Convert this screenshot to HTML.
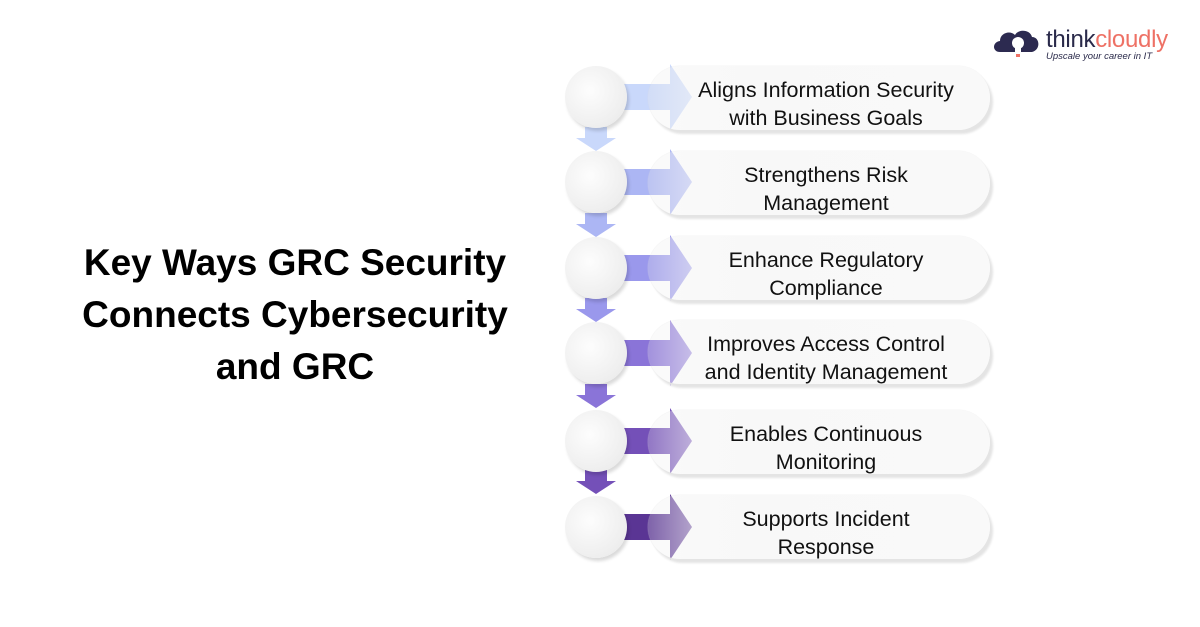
<!DOCTYPE html>
<html><head><meta charset="utf-8"><style>
body{margin:0;width:1200px;height:627px;background:#fff;position:relative;overflow:hidden;font-family:"Liberation Sans",sans-serif}
.t{position:absolute;left:35px;width:520px;top:237px;text-align:center;font-weight:bold;font-size:37px;line-height:52px;color:#000}
.c{position:absolute;left:565px;width:62px;height:62px;border-radius:50%;background:radial-gradient(circle at 40% 40%,#fdfdfd,#eeeeee 70%,#e2e2e2);box-shadow:2px 3px 3px rgba(0,0,0,.15)}
.p{position:absolute;left:648px;width:342px;height:64px;border-radius:32px;background:linear-gradient(90deg,rgba(235,235,235,.25),rgba(245,245,245,.6) 14%,rgba(248,248,248,.95) 30%,#f9f9f9);box-shadow:3px 4px 2px #e4e4e4,0 0 1px #ddd;display:flex;align-items:center;justify-content:center;text-align:center;font-size:21.5px;line-height:28px;color:#111}
.p span{position:relative;left:7px;top:6px}
svg{position:absolute;left:0;top:0}
.logo{position:absolute;left:1046px;top:26px;font-size:24px;color:#2a2a4a;letter-spacing:-0.3px}
.logo b{color:#ee7165;font-weight:normal}
.sub{position:absolute;left:1046px;top:51px;font-size:9.5px;font-style:italic;color:#2a2a4a}
</style></head><body>
<div class="t">Key Ways GRC Security<br>Connects Cybersecurity<br>and GRC</div>
<svg width="1200" height="627">
<g>
<path d="M585 127h22v11l9 0-20 13-20-13 9 0z" fill="#c9d8fb"/>
<path d="M585 213h22v11l9 0-20 13-20-13 9 0z" fill="#acb6f4"/>
<path d="M585 298h22v11l9 0-20 13-20-13 9 0z" fill="#9a98ec"/>
<path d="M585 384h22v11l9 0-20 13-20-13 9 0z" fill="#8a74d8"/>
<path d="M585 470h22v11l9 0-20 13-20-13 9 0z" fill="#7450b8"/>
</g>
<g>
<path d="M620 84h50v-20l22 33-22 33v-20h-50z" fill="#c9d8fb"/>
<path d="M620 169h50v-20l22 33-22 33v-20h-50z" fill="#acb6f4"/>
<path d="M620 255h50v-20l22 33-22 33v-20h-50z" fill="#9a98ec"/>
<path d="M620 340h50v-20l22 33-22 33v-20h-50z" fill="#8a74d8"/>
<path d="M620 428h50v-20l22 33-22 33v-20h-50z" fill="#7450b8"/>
<path d="M620 514h50v-20l22 33-22 33v-20h-50z" fill="#5a3594"/>
</g>
</svg>
<div class="c" style="top:66px"></div>
<div class="c" style="top:151px"></div>
<div class="c" style="top:237px"></div>
<div class="c" style="top:322px"></div>
<div class="c" style="top:410px"></div>
<div class="c" style="top:496px"></div>
<div class="p" style="top:66px"><span>Aligns Information Security<br>with Business Goals</span></div>
<div class="p" style="top:151px"><span>Strengthens Risk<br>Management</span></div>
<div class="p" style="top:236px"><span>Enhance Regulatory<br>Compliance</span></div>
<div class="p" style="top:320px"><span>Improves Access Control<br>and Identity Management</span></div>
<div class="p" style="top:410px"><span>Enables Continuous<br>Monitoring</span></div>
<div class="p" style="top:495px"><span>Supports Incident<br>Response</span></div>
<svg width="1200" height="627" style="pointer-events:none">
<path d="M1000 52c-8 0-8-10 0-11 0-8 10-11 15-6 3-6 15-6 17 2 8 0 9 13 0 15z" fill="#2c2a50"/>
<circle cx="1018" cy="43" r="6" fill="#fff"/>
<rect x="1015" y="48" width="6" height="5" fill="#fff"/>
<rect x="1016" y="54" width="4" height="3" fill="#ee7165"/>
</svg>
<div class="logo">think<b>cloudly</b></div>
<div class="sub">Upscale your career in IT</div>
</body></html>
